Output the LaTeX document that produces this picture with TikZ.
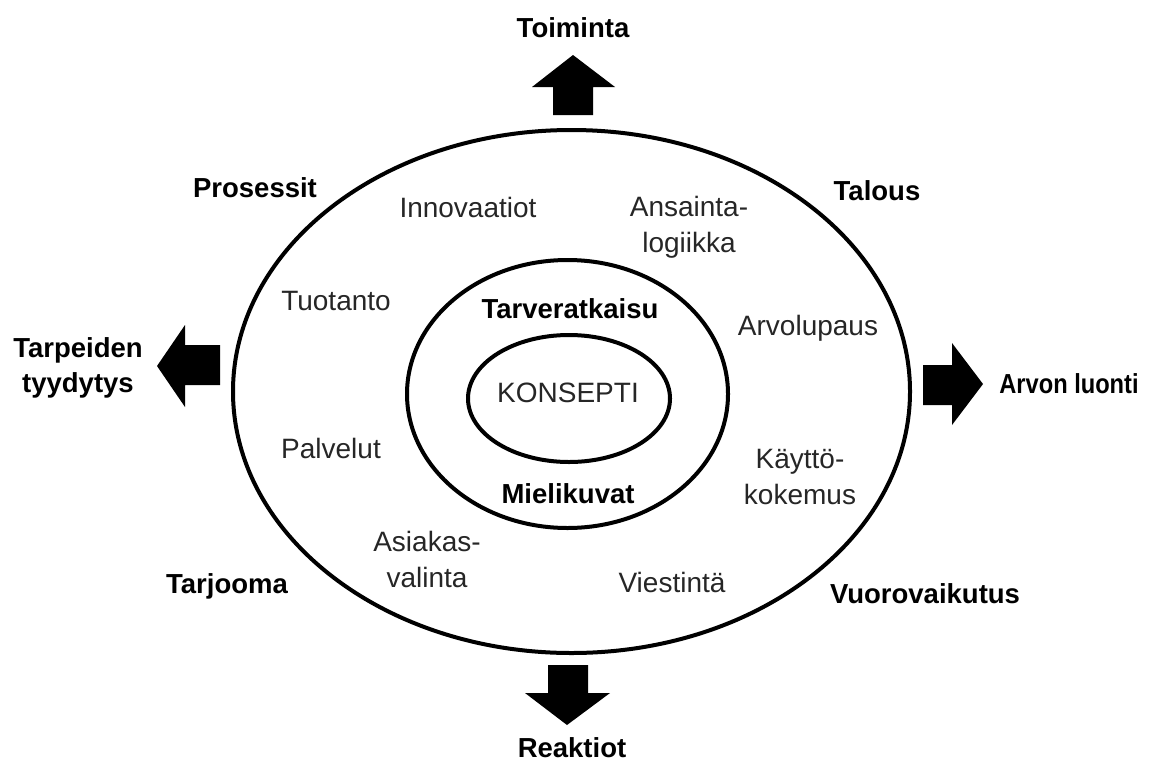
\documentclass[tikz,border=0pt]{standalone}
\usepackage{fontspec}
\usepackage{graphicx}
\setmainfont{Liberation Sans}
\begin{document}
\begin{tikzpicture}[x=1pt,y=-1pt,
  ring/.style={line width=4pt},
  blockarrow/.style={fill=black,draw=none},
  lbl/.style={inner sep=0pt,text=black!85,font=\fontsize{28}{36}\selectfont,align=center,text height=20pt,text depth=0pt},
  lbl2/.style={inner sep=0pt,text=black!85,font=\fontsize{28}{36}\selectfont,align=center},
  bold/.style={inner sep=0pt,text=black,font=\fontsize{27.5}{35}\selectfont\bfseries,align=center,text height=20pt,text depth=0pt},
  bold2/.style={inner sep=0pt,text=black,font=\fontsize{27.5}{35}\selectfont\bfseries,align=center}]
\useasboundingbox (0,0) rectangle (1174,763);
% rings
\draw[ring] (571.5,391.5) ellipse [x radius=338.5pt, y radius=261.5pt];
\draw[ring] (567.5,394) ellipse [x radius=160.5pt, y radius=134pt];
\draw[ring] (569,398.5) ellipse [x radius=101pt, y radius=63.5pt];
% block arrows
\fill[blockarrow] (553,115) -- (553,87) -- (532,87) -- (573,55) -- (615,87) -- (593,87) -- (593,115) -- cycle;
\fill[blockarrow] (548,665) -- (548,693) -- (525,693) -- (567,725) -- (610,693) -- (588,693) -- (588,665) -- cycle;
\fill[blockarrow] (220,345) -- (185,345) -- (185,325) -- (157,366) -- (185,407) -- (185,385) -- (220,385) -- cycle;
\fill[blockarrow] (923,365) -- (952,365) -- (952,343) -- (983,384) -- (952,425) -- (952,405) -- (923,405) -- cycle;
% outside labels
\node[bold] (toiminta) at (573,27) {Toiminta};
\node[bold] (reaktiot) at (572,747) {Reaktiot};
\node[bold2] (tarpeiden) at (78,368) {Tarpeiden\\tyydytys};
\node[bold] (arvon) at (1069,383) {\scalebox{0.86}[1]{Arvon luonti}};
\node[bold] (prosessit) at (255,187) {Prosessit};
\node[bold] (talous) at (877,190) {Talous};
\node[bold] (tarjooma) at (227,583) {Tarjooma};
\node[bold] (vuoro) at (925,593) {Vuorovaikutus};
% ring labels
\node[lbl] (innov) at (468,207) {Innovaatiot};
\node[lbl2] (ansainta) at (689,227) {Ansainta-\\logiikka};
\node[lbl] (tuotanto) at (336,300) {Tuotanto};
\node[lbl] (arvolupaus) at (808,325) {Arvolupaus};
\node[lbl] (palvelut) at (331,448) {Palvelut};
\node[lbl2] (kaytto) at (800,477) {Käyttö-\\kokemus};
\node[lbl2] (asiakas) at (427,559) {Asiakas-\\valinta};
\node[lbl] (viestinta) at (672,582) {Viestintä};
% inner labels
\node[bold] (tarve) at (570,308) {Tarveratkaisu};
\node[bold] (mieli) at (568,493) {Mielikuvat};
\node[lbl] (konsepti) at (568,392) {KONSEPTI};
\end{tikzpicture}
\end{document}
